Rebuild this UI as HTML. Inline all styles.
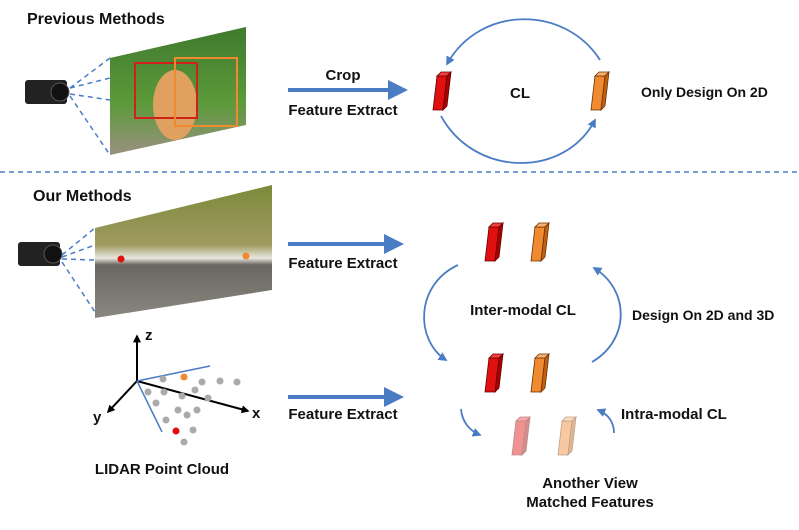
<!DOCTYPE html>
<html><head><meta charset="utf-8"><style>
body{margin:0;background:#fff}
svg{display:block}
text{font-family:"Liberation Sans",sans-serif;font-weight:bold;fill:#111}
</style></head><body>
<svg width="799" height="530" viewBox="0 0 799 530" xmlns="http://www.w3.org/2000/svg">
<defs>
<marker id="ah" viewBox="0 0 10 10" refX="8" refY="5" markerWidth="5" markerHeight="5" orient="auto"><path d="M0,0L10,5L0,10z" fill="#4a7cc4"/></marker>
<marker id="ab" viewBox="0 0 10 10" refX="8" refY="5" markerWidth="4" markerHeight="4" orient="auto"><path d="M0,0L10,5L0,10z" fill="#000"/></marker>
<linearGradient id="kit" x1="0" y1="0" x2="0" y2="1"><stop offset="0" stop-color="#3f7a2e"/><stop offset="0.6" stop-color="#5c9a3a"/><stop offset="1" stop-color="#9a9080"/></linearGradient>
<linearGradient id="st" x1="0" y1="0" x2="0" y2="1"><stop offset="0" stop-color="#7a8a3a"/><stop offset="0.45" stop-color="#a09a60"/><stop offset="0.55" stop-color="#e8e8e0"/><stop offset="0.6" stop-color="#6a6660"/><stop offset="1" stop-color="#8a8680"/></linearGradient>
</defs>
<text x="27" y="24" font-size="16">Previous Methods</text>
<rect x="25" y="80" width="42" height="24" rx="3" fill="#222"/><circle cx="60" cy="92" r="9" fill="#111" stroke="#555"/>
<g stroke="#4a7cc4" stroke-width="1.5" stroke-dasharray="5,4" fill="none">
<line x1="70" y1="88" x2="110" y2="58"/><line x1="70" y1="88" x2="110" y2="78"/><line x1="70" y1="94" x2="110" y2="100"/><line x1="70" y1="96" x2="110" y2="155"/>
</g>
<polygon points="110,58 246,27 246,125 110,155" fill="url(#kit)"/>
<ellipse cx="175" cy="105" rx="22" ry="35" fill="#e0a060"/>
<rect x="135" y="63" width="62" height="55" fill="none" stroke="#d0201a" stroke-width="2"/>
<rect x="175" y="58" width="62" height="68" fill="none" stroke="#f08a30" stroke-width="2"/>
<line x1="288" y1="90" x2="404" y2="90" stroke="#4a7cc4" stroke-width="4" marker-end="url(#ah)"/>
<text x="343" y="80" font-size="15" text-anchor="middle">Crop</text>
<text x="343" y="115" font-size="15" text-anchor="middle">Feature Extract</text>
<g id="rb"><polygon points="437,76 447,76 443,110 433,110" fill="#e01010" stroke="#600" stroke-width="0.8"/><polygon points="437,76 441,72 451,72 447,76" fill="#f04040" stroke="#600" stroke-width="0.8"/><polygon points="447,76 451,72 447,106 443,110" fill="#a00" stroke="#600" stroke-width="0.8"/></g>
<g id="ob"><polygon points="595,76 605,76 601,110 591,110" fill="#f08a30" stroke="#6a3000" stroke-width="0.8"/><polygon points="595,76 599,72 609,72 605,76" fill="#f8b070" stroke="#6a3000" stroke-width="0.8"/><polygon points="605,76 609,72 605,106 601,110" fill="#c06010" stroke="#6a3000" stroke-width="0.8"/></g>
<text x="520" y="98" font-size="15" text-anchor="middle">CL</text>
<text x="641" y="97" font-size="14">Only Design On 2D</text>
<path d="M600,60 C565,5 480,5 447,64" fill="none" stroke="#4a7cc4" stroke-width="1.8" marker-end="url(#ah)"/>
<path d="M441,116 C475,178 565,178 595,120" fill="none" stroke="#4a7cc4" stroke-width="1.8" marker-end="url(#ah)"/>
<line x1="0" y1="172" x2="799" y2="172" stroke="#4a7cc4" stroke-width="1.5" stroke-dasharray="5,4"/>
<text x="33" y="201" font-size="16">Our Methods</text>
<rect x="18" y="242" width="42" height="24" rx="3" fill="#222"/><circle cx="53" cy="254" r="9" fill="#111" stroke="#555"/>
<g stroke="#4a7cc4" stroke-width="1.5" stroke-dasharray="5,4" fill="none">
<line x1="62" y1="255" x2="95" y2="228"/><line x1="62" y1="257" x2="95" y2="245"/><line x1="62" y1="259" x2="95" y2="260"/><line x1="62" y1="262" x2="95" y2="312"/>
</g>
<polygon points="95,228 272,185 272,290 95,318" fill="url(#st)"/>
<circle cx="121" cy="259" r="3.5" fill="#e01010"/><circle cx="246" cy="256" r="3.5" fill="#f08a30"/>
<line x1="288" y1="244" x2="400" y2="244" stroke="#4a7cc4" stroke-width="4" marker-end="url(#ah)"/>
<text x="343" y="268" font-size="15" text-anchor="middle">Feature Extract</text>
<line x1="288" y1="397" x2="400" y2="397" stroke="#4a7cc4" stroke-width="4" marker-end="url(#ah)"/>
<text x="343" y="419" font-size="15" text-anchor="middle">Feature Extract</text>
<line x1="137" y1="381" x2="137" y2="336" stroke="#000" stroke-width="2" marker-end="url(#ab)"/>
<line x1="137" y1="381" x2="108" y2="412" stroke="#000" stroke-width="2" marker-end="url(#ab)"/>
<line x1="137" y1="381" x2="248" y2="411" stroke="#000" stroke-width="2" marker-end="url(#ab)"/>
<line x1="137" y1="381" x2="210" y2="366" stroke="#4a7cc4" stroke-width="1.5"/>
<line x1="137" y1="381" x2="162" y2="432" stroke="#4a7cc4" stroke-width="1.5"/>
<text x="145" y="340" font-size="15">z</text><text x="93" y="422" font-size="15">y</text><text x="252" y="418" font-size="15">x</text>
<g fill="#aaa">
<circle cx="163" cy="379" r="3.5"/><circle cx="202" cy="382" r="3.5"/><circle cx="220" cy="381" r="3.5"/><circle cx="237" cy="382" r="3.5"/><circle cx="148" cy="392" r="3.5"/><circle cx="164" cy="392" r="3.5"/><circle cx="182" cy="396" r="3.5"/><circle cx="195" cy="390" r="3.5"/><circle cx="208" cy="398" r="3.5"/><circle cx="156" cy="403" r="3.5"/><circle cx="178" cy="410" r="3.5"/><circle cx="187" cy="415" r="3.5"/><circle cx="197" cy="410" r="3.5"/><circle cx="166" cy="420" r="3.5"/><circle cx="193" cy="430" r="3.5"/><circle cx="184" cy="442" r="3.5"/>
</g>
<circle cx="184" cy="377" r="3.5" fill="#f08a30"/><circle cx="176" cy="431" r="3.5" fill="#e01010"/>
<text x="162" y="474" font-size="15" text-anchor="middle">LIDAR Point Cloud</text>
<use href="#rb" transform="translate(52,151)"/><use href="#ob" transform="translate(-60,151)"/>
<use href="#rb" transform="translate(52,282)"/><use href="#ob" transform="translate(-60,282)"/>
<g opacity="0.45"><use href="#rb" transform="translate(79,345)"/><use href="#ob" transform="translate(-33,345)"/></g>
<text x="523" y="315" font-size="15" text-anchor="middle">Inter-modal CL</text>
<text x="632" y="320" font-size="14">Design On 2D and 3D</text>
<text x="621" y="419" font-size="15">Intra-modal CL</text>
<text x="590" y="488" font-size="15" text-anchor="middle">Another View</text>
<text x="590" y="507" font-size="15" text-anchor="middle">Matched Features</text>
<path d="M458,265 C415,285 415,340 446,360" fill="none" stroke="#4a7cc4" stroke-width="1.8" marker-end="url(#ah)"/>
<path d="M592,362 C630,340 630,290 594,268" fill="none" stroke="#4a7cc4" stroke-width="1.8" marker-end="url(#ah)"/>
<path d="M461,409 C462,422 470,431 480,435" fill="none" stroke="#4a7cc4" stroke-width="1.8" marker-end="url(#ah)"/>
<path d="M614,433 C614,422 608,414 598,410" fill="none" stroke="#4a7cc4" stroke-width="1.8" marker-end="url(#ah)"/>
</svg>
</body></html>
